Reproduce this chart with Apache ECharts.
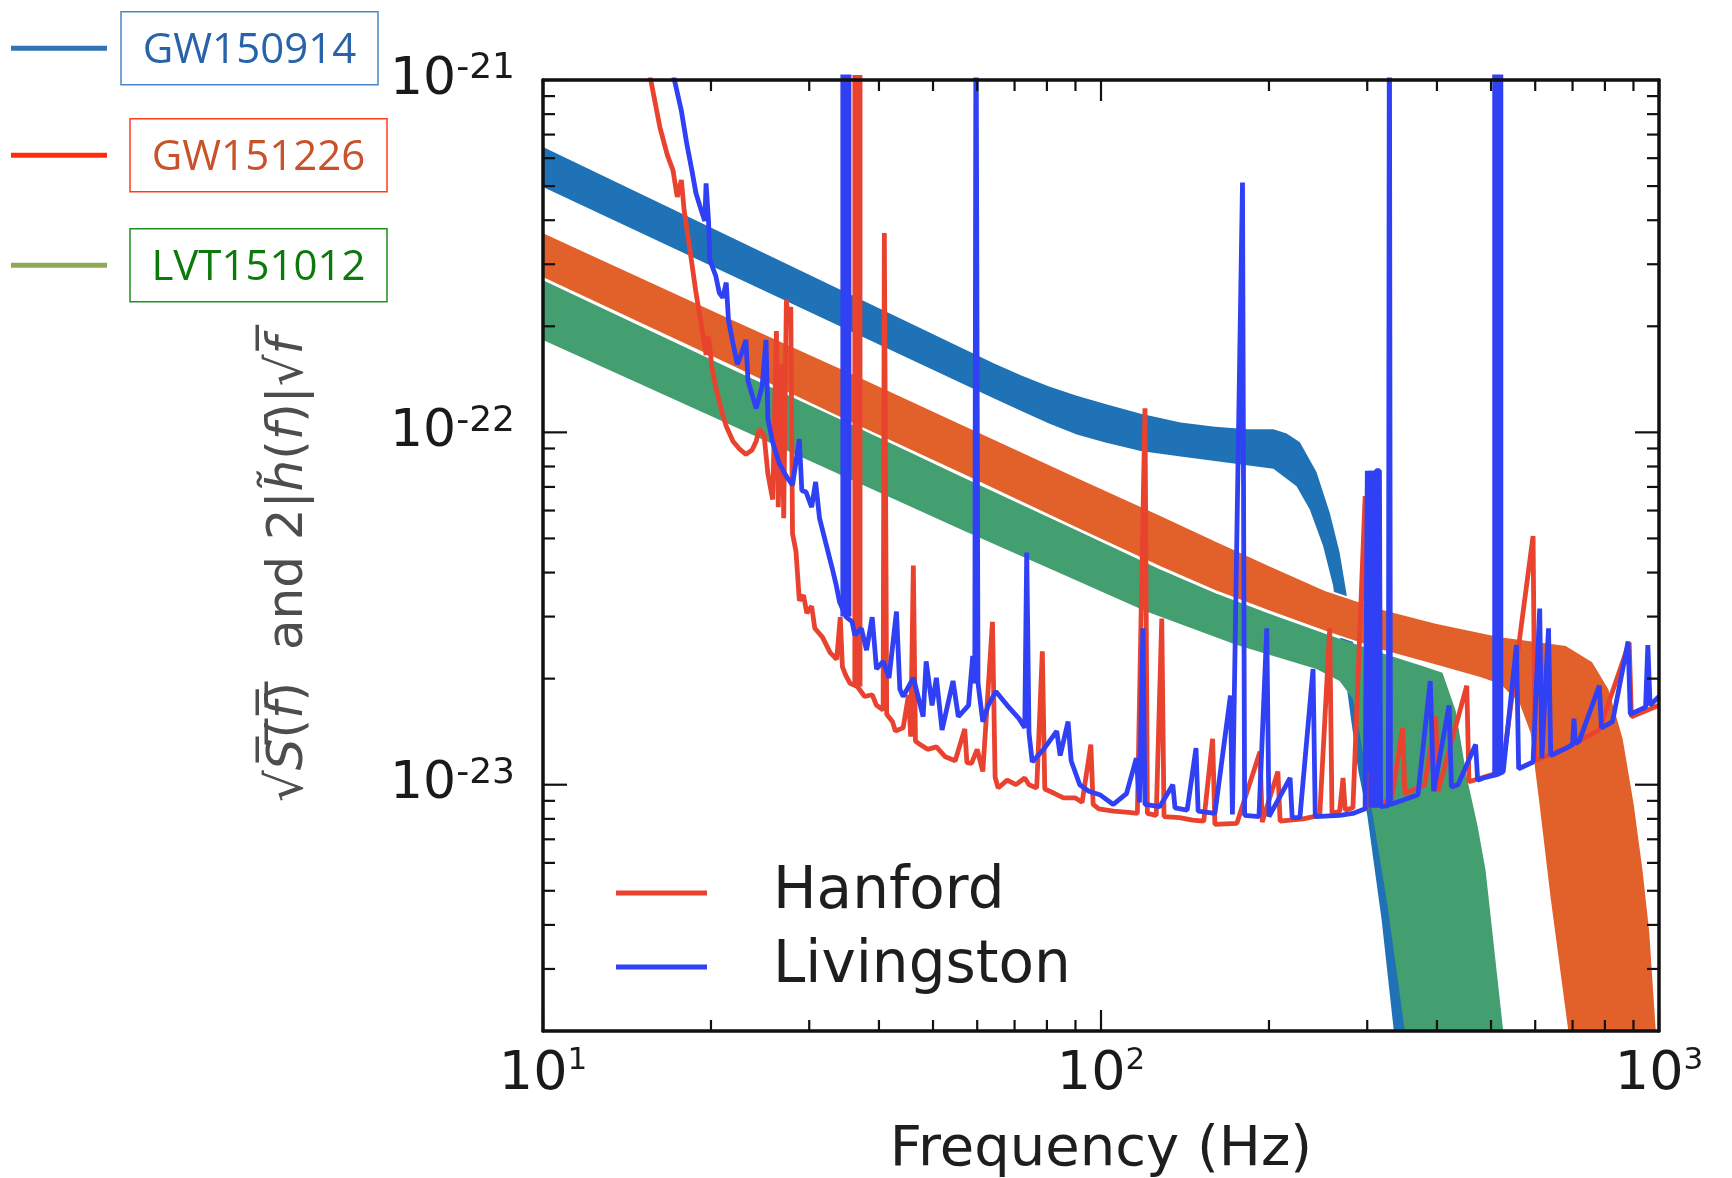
<!DOCTYPE html>
<html><head><meta charset="utf-8">
<script src="https://cdn.jsdelivr.net/npm/echarts/dist/echarts.min.js"></script>
<style>html,body{margin:0;padding:0;background:#fff}#c{width:1732px;height:1178px}</style>
</head><body><div id="c"></div>
<script>
// amplitudes are in units of 1e-23
const UNIT = 1e-23;
const OFF_SCALE = 200; // lines that leave the top of the plot
const xRange = [10, 1000];
const yRange = [2e-24, 1e-21];
const xMajorTicks = [10, 100, 1000];
const xMinorTicks = [20, 30, 40, 50, 60, 70, 80, 90, 200, 300, 400, 500, 600, 700, 800, 900];
const yMajorTicks = [1e-23, 1e-22, 1e-21];
const yMinorTicks = [3e-24, 4e-24, 5e-24, 6e-24, 7e-24, 8e-24, 9e-24,
  2e-23, 3e-23, 4e-23, 5e-23, 6e-23, 7e-23, 8e-23, 9e-23,
  2e-22, 3e-22, 4e-22, 5e-22, 6e-22, 7e-22, 8e-22, 9e-22];

// GW150914 band edges [Hz, amplitude]
const gw150914Upper = [[10,64.5],[64.2,15.7],[72.0,14.5],[80.7,13.5],[90.5,12.7],[101.4,12.05],[117.8,11.3],[138.9,10.67],[160.0,10.37],[183.4,10.2],[203.7,10.2],[215.1,9.93],[227.2,9.37],[243.3,7.72],[257.0,5.91],[267.7,4.56],[275.1,3.52],[284.1,2.41],[293.3,1.56],[302.8,1.05],[316.0,0.708],[334.8,0.37],[353.6,0.2]];
const gw150914Lower = [[10,49.7],[64.2,12.5],[72.0,11.5],[80.7,10.6],[90.5,9.86],[101.4,9.37],[117.8,8.85],[138.9,8.54],[160.0,8.29],[203.7,7.88],[224.1,7.03],[236.7,6.04],[250.0,4.77],[260.5,3.68],[270.2,2.41],[280.2,1.56],[289.3,1.09],[300.1,0.818],[318.4,0.413],[334.8,0.2]];
// GW151226 band edges
const gw151226Upper = [[10,37.0],[21.8,21.0],[34.9,15.0],[56.0,10.6],[90.0,7.50],[127.4,5.84],[160.0,4.94],[200.9,4.19],[252.2,3.57],[317.0,3.16],[398.1,2.88],[518.7,2.64],[682.0,2.49],[760.6,2.24],[814.5,1.87],[864.3,1.35],[904.6,0.879],[938.1,0.571],[964.2,0.384],[990.9,0.2]];
const gw151226Lower = [[10,27.4],[21.8,15.4],[34.9,10.8],[56.0,7.63],[90.0,5.36],[127.4,4.15],[160.0,3.55],[200.9,3.10],[252.2,2.72],[317.0,2.41],[398.1,2.18],[477.6,2.01],[518.7,1.92],[560.4,1.70],[586.5,1.40],[608.3,0.879],[636.8,0.477],[685.0,0.2]];
// LVT151012 band edges
const lvt151012Upper = [[10,27.0],[21.8,15.1],[34.9,10.7],[56.0,7.51],[90.0,5.29],[127.4,4.09],[160.0,3.50],[200.9,3.05],[252.2,2.68],[317.0,2.37],[380.3,2.16],[409.2,2.08],[432.2,1.62],[452.4,1.05],[473.2,0.761],[488.9,0.571],[525.8,0.2]];
const lvt151012Lower = [[10,18.3],[21.8,10.45],[34.9,7.46],[56.0,5.31],[84.5,3.98],[120.6,3.10],[175.2,2.49],[243.3,2.13],[267.7,1.97],[282.8,1.75],[290.6,1.41],[307.0,0.818],[325.8,0.460],[350.4,0.2]];

// Detector noise curves [Hz, amplitude]
const hanford = [[15.3,113],[15.6,100],[16.2,73.4],[16.7,61.3],[17.1,55.4],[17.4,46.6],[17.7,52.0],[17.9,42.8],[18.3,33.7],[18.8,24.9],[19.3,19.4],[19.6,16.6],[19.8,18.7],[20.1,15.1],[20.5,13.0],[20.9,11.5],[21.3,10.4],[21.9,9.44],[22.5,8.97],[23.1,8.66],[23.7,8.91],[24.1,9.44],[24.4,10.2],[24.9,9.79],[25.3,7.61],[25.8,6.45],[26.2,19.4],[26.4,6.13],[26.8,15.6],[27.0,5.71],[27.3,23.7],[27.5,20.8],[27.8,22.7],[28.0,5.16],[28.4,4.60],[28.8,3.33],[29.3,3.45],[29.7,3.07],[30.3,3.21],[30.7,2.78],[31.7,2.62],[32.7,2.37],[33.6,2.27],[34.1,2.99],[34.4,2.16],[34.9,2.04],[35.5,1.94],[36.6,1.9],
[37.7,1.78],[38.9,1.80],[39.6,1.68],[40.7,1.63],[40.9,36.8],[41.3,1.585],[42.3,1.51],[42.8,1.42],[44.2,1.45],[45.2,1.80],[45.6,1.37],[46.1,4.19],[46.5,1.33],[47.1,1.31],[48.9,1.26],[50.7,1.28],[52.6,1.20],[54.8,1.17],[57.0,1.44],[57.5,1.155],[58.6,1.15],[60.0,1.26],[61.4,1.09],[63.9,2.90],[64.6,1.05],[65.4,0.979],[67.9,1.03],[70.4,1.0],[73.0,1.045],[74.3,1.0],[76.7,0.979],[78.5,2.39],[79.3,0.972],[82.6,0.944],[85.7,0.917],[90.0,0.917],[92.5,0.891],[95.9,1.30],[96.8,0.879],[99.1,0.854],[105.2,0.841],[112.1,0.835],[116.2,0.829],[119.9,11.7],[121.1,0.829],[125.6,0.818],[128.5,2.96],[129.7,0.812],[138.2,0.806],[146.0,0.794],[152.8,0.788],[158.5,1.35],[160.0,0.772],[175.2,0.777],[192.7,1.24],[194.5,0.783],[207.5,1.09],[209.4,0.788],[230.1,0.80],[246.6,0.818],[257.0,2.78],[259.4,0.829],[267.7,0.841],[271.5,1.045],[273.9,0.847],[282.8,0.86],[297.4,6.59],[300.1,0.866],[331.7,0.911],[347.2,1.45],[350.4,0.944],[380.3,1.0],[398.1,1.56],[401.8,0.958],[452.4,1.91],[456.5,1.02],[523.5,1.09],[594.7,5.08],[599.8,1.17],[688.2,1.28],[781.6,1.43],[884.3,2.53],[892.4,1.56],[1000,1.68]];
// strong Hanford lines [Hz, base amplitude, top amplitude]
const hanfordThickLines = [[36.6, 1.9, OFF_SCALE]];

const livingston = [[17.0,113],[17.2,100],[17.7,81.8],[18.1,65.9],[18.5,55.0],[18.8,47.7],[19.2,42.8],[19.5,39.8],[19.6,50.9],[19.8,39.8],[19.9,30.9],[20.4,27.8],[20.7,24.9],[21.0,24.1],[21.3,26.6],[21.5,20.8],[21.9,17.9],[22.3,15.6],[22.7,16.8],[23.1,18.3],[23.3,14.0],[24.1,11.7],[24.7,13.5],[25.1,18.3],[25.3,10.9],[25.8,9.37],[26.5,8.18],[27.3,7.50],[28.0,7.08],[28.8,9.57],[29.1,6.83],[29.6,6.78],[30.3,6.13],[30.8,7.23],[31.3,5.71],[32.1,4.87],[33.0,4.10],[33.5,3.71],[34.0,3.3],[34.9,3.0],[35.8,2.9],
[36.2,2.66],[37.2,2.78],[38.0,2.41],[38.9,2.99],[39.6,2.13],[40.7,2.24],[41.7,2.01],[43.0,3.10],[43.6,1.87],[44.2,1.78],[46.1,2.01],[48.0,1.56],[48.6,2.24],[49.8,1.68],[50.7,2.01],[51.9,1.43],[53.1,1.68],[54.3,1.97],[55.5,1.56],[56.5,1.61],[57.9,1.68],[58.9,2.32],[59.4,1.94],[59.7,200],[60.2,1.94],[61.4,1.51],[62.8,1.68],[64.8,1.84],[67.9,1.68],[71.3,1.54],[73.0,1.45],[73.6,4.56],[74.3,1.40],[75.3,1.16],[78.9,1.26],[83.3,1.42],[84.5,1.21],[87.3,1.51],[88.4,1.17],[91.6,1.0],[95.1,0.958],[99.5,0.937],[105.2,0.879],[111.1,0.944],[115.7,1.19],[117.2,0.891],[118.9,2.78],[119.9,0.879],[127.4,0.866],[134.5,1.0],[135.7,0.86],[142.7,0.847],[148.0,1.27],[149.3,0.841],[160.0,0.829],[170.6,1.79],[172.0,0.823],[179.3,51.2],[180.9,0.818],[191.9,0.812],[198.2,2.78],[200.0,0.812],[218.2,1.045],[220.1,0.806],[227.2,0.806],[239.9,2.13],[242.1,0.812],[267.7,0.818],[282.8,0.829],[297.4,0.854],
[300.1,7.78],[302.8,1.09],[305.6,7.78],[308.3,1.09],[311.2,7.78],[315.5,7.78],[317.0,0.866],[327.3,0.872],[328.7,200],[330.2,0.879],[347.2,0.904],[369.8,0.937],[389.1,1.97],[394.6,0.958],[420.5,1.68],[424.6,0.986],[436.3,1.0],[469.2,1.30],[473.2,1.03],[484.4,1.045],[514.1,1.07],
[525.8,1.09],[555.3,2.49],[560.4,1.11],[594.7,1.16],[611.2,3.16],[616.6,1.19],[633.9,2.78],[639.7,1.21],[682.0,1.27],[700.0,1.30],[704.1,1.54],[708.0,1.31],[719.5,1.33],[781.6,1.91],[788.8,1.45],[825.6,1.51],[880.2,2.55],[888.3,1.585],[946.2,1.66],[955.0,2.49],[963.9,1.68],[1000,1.78]];
// strong Livingston lines [Hz, base amplitude, top amplitude]
const livingstonThickLines = [[34.9, 3.0, OFF_SCALE], [308.3, 0.86, 7.78], [514.1, 1.07, OFF_SCALE]];

const COLORS = {
  gw150914: '#1f72b5', gw151226: '#e2612a', lvt151012: '#449f70',
  hanford: '#e9432f', livingston: '#2f40f5'
};

function scaled(arr) { return arr.map(p => [p[0], p[1] * UNIT]); }
function thickData(lines) {
  const out = [];
  lines.forEach((l, i) => {
    if (i > 0) out.push([l[0], '-']);
    out.push([l[0], l[1] * UNIT]);
    out.push([l[0], l[2] * UNIT]);
  });
  return out;
}

function bandSeries(name, upper, lower, color, z, stroke) {
  const pts = scaled(upper.concat(lower.slice().reverse()));
  return {
    name: name, type: 'custom', coordinateSystem: 'cartesian2d', z: z, clip: true, silent: true,
    itemStyle: { color: color }, data: pts, encode: { x: 0, y: 1 },
    renderItem: function (params, api) {
      if (params.dataIndex !== 0) return null;
      const poly = pts.map(p => api.coord(p));
      return { type: 'polygon', shape: { points: poly },
        style: { fill: color, stroke: stroke || null, lineWidth: stroke ? 2 : 0 } };
    }
  };
}

function powLabel(v) {
  if (!(v > 0)) return '';
  const e = Math.log10(v), r = Math.round(e);
  if (!isFinite(e) || Math.abs(e - r) > 1e-6) return '';
  return '{b|10}{s|' + r + '}';
}

const tickSeries = {
  type: 'custom', coordinateSystem: 'cartesian2d', z: 20, clip: false, silent: true,
  data: [[xRange[0], yRange[0]]], encode: { x: 0, y: 1 },
  renderItem: function (params, api) {
    if (params.dataIndex !== 0) return null;
    const kids = [];
    const add = (x1, y1, x2, y2) => kids.push({ type: 'line', shape: { x1, y1, x2, y2 }, style: { stroke: '#111', lineWidth: 2.2 } });
    const MAJ = 21, MIN = 11;
    xMajorTicks.concat(xMinorTicks).forEach(f => {
      const len = xMajorTicks.indexOf(f) >= 0 ? MAJ : MIN;
      const b = api.coord([f, yRange[0]]), t = api.coord([f, yRange[1]]);
      add(b[0], b[1], b[0], b[1] - len); add(t[0], t[1], t[0], t[1] + len);
    });
    yMajorTicks.concat(yMinorTicks).forEach(v => {
      const len = yMajorTicks.indexOf(v) >= 0 ? MAJ + 3 : MIN + 1;
      const l = api.coord([xRange[0], v]), r = api.coord([xRange[1], v]);
      add(l[0], l[1], l[0] + len, l[1]); add(r[0], r[1], r[0] - len, r[1]);
    });
    return { type: 'group', children: kids };
  }
};

const frameLine = { show: true, onZero: false, lineStyle: { color: '#111', width: 3.5 } };
const labelRichX = {
  b: { fontFamily: 'DejaVu Sans', fontSize: 54, color: '#1a1a1a', lineHeight: 60 },
  s: { fontFamily: 'DejaVu Sans', fontSize: 31, color: '#1a1a1a', lineHeight: 32, verticalAlign: 'top' }
};
const labelRichY = {
  b: { fontFamily: 'DejaVu Sans', fontSize: 52, color: '#1a1a1a', lineHeight: 58 },
  s: { fontFamily: 'DejaVu Sans', fontSize: 36, color: '#1a1a1a', lineHeight: 36, verticalAlign: 'top' }
};
const titleColor = '#4d4d4d';

function bandLegend(name, top, gap, lineColor, boxColor, textColor) {
  return {
    left: 11, top: top, padding: 0, orient: 'vertical', icon: 'rect', itemWidth: 96, itemHeight: 5,
    selectedMode: false, itemStyle: { color: lineColor },
    data: [name],
    formatter: n => '{s| }{b|' + n + '}',
    textStyle: { rich: {
      s: { width: gap, fontSize: 10 },
      b: { width: 257, height: 68, lineHeight: 68, padding: [5, 0, 0, 0], align: 'center',
           borderColor: boxColor, borderWidth: 1.5, color: textColor,
           fontFamily: 'Open Sans', fontSize: 42 }
    } }
  };
}

const chart = echarts.init(document.getElementById('c'), null, { renderer: 'canvas' });
chart.setOption({
  animation: false,
  backgroundColor: '#fff',
  grid: { left: 543, right: 73, top: 80, bottom: 147, containLabel: false, outerBoundsMode: 'none' },
  legend: [
    {
      orient: 'vertical', left: 616, top: 864, padding: 0, itemGap: 16, icon: 'rect',
      itemWidth: 91, itemHeight: 5, selectedMode: false,
      data: ['Hanford', 'Livingston'],
      formatter: n => '{s| }{t|' + n + '}',
      textStyle: { rich: {
        s: { width: 61, fontSize: 10 },
        t: { fontFamily: 'DejaVu Sans', fontSize: 58, color: '#1e1e1e', lineHeight: 70 }
      } }
    },
    bandLegend('GW150914', 11, 9, '#2e75b6', '#4a86c5', '#2862a8'),
    bandLegend('GW151226', 118, 18, '#ff2d0a', '#ff3b1f', '#c8522a'),
    bandLegend('LVT151012', 228, 18, '#8eaa54', '#1f8f1f', '#0b7a0b')
  ],
  xAxis: [
    { type: 'log', logBase: 10, min: xRange[0], max: xRange[1], position: 'bottom', z: 10,
      axisLine: frameLine, axisTick: { show: false }, minorTick: { show: false },
      splitLine: { show: false }, minorSplitLine: { show: false },
      axisLabel: { interval: 0, margin: 14, formatter: powLabel, rich: labelRichX },
      name: 'Frequency (Hz)', nameLocation: 'middle', nameGap: 91, nameMoveOverlap: false,
      nameTextStyle: { fontFamily: 'DejaVu Sans', fontSize: 56, color: '#1e1e1e' } },
    { type: 'log', logBase: 10, min: xRange[0], max: xRange[1], position: 'top', z: 10,
      axisLine: frameLine, axisTick: { show: false }, axisLabel: { show: false }, splitLine: { show: false } }
  ],
  yAxis: [
    { type: 'log', logBase: 10, min: yRange[0], max: yRange[1], position: 'left', z: 10,
      axisLine: frameLine, axisTick: { show: false }, minorTick: { show: false },
      splitLine: { show: false }, minorSplitLine: { show: false },
      axisLabel: { interval: 0, margin: 28, formatter: powLabel, rich: labelRichY },
      name: '{r|√}{i|S\u0305}{r|(\u0305}{i|f\u0305}{r|)\u0305}{r|  and 2|}{i|h\u0303}{r|(}{i|f}{r|)|√}{i|f\u0305}',
      nameLocation: 'middle', nameRotate: 90, nameGap: 229, nameMoveOverlap: false,
      nameTextStyle: { padding: [0, 28, 0, 0], rich: {
        r: { fontFamily: 'DejaVu Sans', fontSize: 50, color: titleColor },
        i: { fontFamily: 'DejaVu Sans', fontStyle: 'italic', fontSize: 50, color: titleColor }
      } } },
    { type: 'log', logBase: 10, min: yRange[0], max: yRange[1], position: 'right', z: 10,
      axisLine: frameLine, axisTick: { show: false }, axisLabel: { show: false }, splitLine: { show: false } }
  ],
  series: [
    bandSeries('GW150914', gw150914Upper, gw150914Lower, COLORS.gw150914, 1),
    bandSeries('LVT151012', lvt151012Upper, lvt151012Lower, COLORS.lvt151012, 2),
    bandSeries('GW151226', gw151226Upper, gw151226Lower, COLORS.gw151226, 3, '#ffffff'),
    { name: 'Hanford', type: 'line', data: scaled(hanford), showSymbol: false, symbol: 'none',
      clip: true, silent: true, z: 4, color: COLORS.hanford,
      lineStyle: { width: 4.8, color: COLORS.hanford } },
    { name: 'Hanford', type: 'line', data: thickData(hanfordThickLines), showSymbol: false, symbol: 'none',
      connectNulls: false, clip: true, silent: true, z: 4, color: COLORS.hanford,
      lineStyle: { width: 10, color: COLORS.hanford, cap: 'butt' } },
    { name: 'Livingston', type: 'line', data: scaled(livingston), showSymbol: false, symbol: 'none',
      clip: true, silent: true, z: 5, color: COLORS.livingston,
      lineStyle: { width: 4.8, color: COLORS.livingston } },
    { name: 'Livingston', type: 'line', data: thickData(livingstonThickLines), showSymbol: false, symbol: 'none',
      connectNulls: false, clip: true, silent: true, z: 5, color: COLORS.livingston,
      lineStyle: { width: 11, color: COLORS.livingston, cap: 'butt' } },
    tickSeries
  ]
});
</script>
</body></html>
